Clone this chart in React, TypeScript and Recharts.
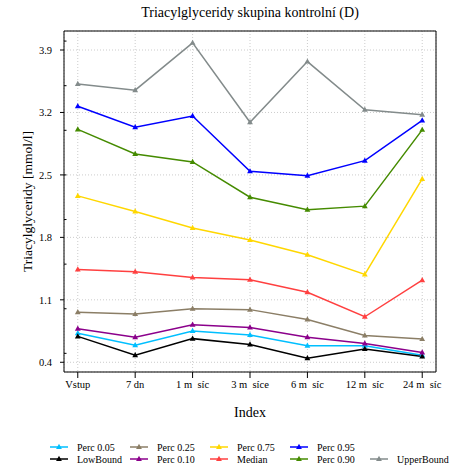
import React from "react";
import { LineChart, Line, XAxis, YAxis, CartesianGrid, Legend } from "recharts";

const labels = ["Vstup", "7 dn", "1 m\u00a0\u00a0síc", "3 m\u00a0\u00a0síce", "6 m\u00a0\u00a0síc", "12 m\u00a0\u00a0síc", "24 m\u00a0\u00a0síc"];
const yTicks = [0.4, 1.1, 1.8, 2.5, 3.2, 3.9];
const yMinorTicks = [0.5, 1.0, 1.5, 2.0, 2.5, 3.0, 3.5, 4.0];

const lowBound = [0.69, 0.48, 0.665, 0.6, 0.445, 0.55, 0.465];
const perc05 = [0.725, 0.59, 0.75, 0.705, 0.585, 0.585, 0.48];
const perc10 = [0.775, 0.68, 0.82, 0.79, 0.68, 0.61, 0.51];
const perc25 = [0.96, 0.94, 1.0, 0.99, 0.88, 0.7, 0.66];
const median = [1.44, 1.415, 1.35, 1.325, 1.185, 0.91, 1.32];
const perc75 = [2.265, 2.09, 1.905, 1.77, 1.605, 1.385, 2.455];
const perc90 = [3.01, 2.735, 2.645, 2.25, 2.11, 2.15, 3.005];
const perc95 = [3.27, 3.035, 3.16, 2.54, 2.49, 2.66, 3.11];
const upperBound = [3.52, 3.45, 3.98, 3.09, 3.77, 3.23, 3.175];

// legend order (column by column), colours in R x11 style
const series = [
  { key: "perc05", name: "Perc 0.05", color: "#00BFFF", values: perc05 },
  { key: "lowBound", name: "LowBound", color: "#000000", values: lowBound },
  { key: "perc25", name: "Perc 0.25", color: "#8B7E66", values: perc25 },
  { key: "perc10", name: "Perc 0.10", color: "#8B008B", values: perc10 },
  { key: "perc75", name: "Perc 0.75", color: "#FFD700", values: perc75 },
  { key: "median", name: "Median", color: "#FF4040", values: median },
  { key: "perc95", name: "Perc 0.95", color: "#0000FF", values: perc95 },
  { key: "perc90", name: "Perc 0.90", color: "#458B00", values: perc90 },
  { key: "upperBound", name: "UpperBound", color: "#838B8B", values: upperBound },
];

const data = labels.map((label, i) => {
  const row: Record<string, number | string> = { idx: i + 1, label };
  series.forEach((s) => (row[s.key] = s.values[i]));
  return row;
});

const FONT = "Liberation Serif, Times New Roman, serif";
const X_DOMAIN: [number, number] = [0.76, 7.24];
const Y_DOMAIN: [number, number] = [0.291, 4.113];

function tri(cx: number, cy: number) {
  return `M${cx},${cy - 3.2} L${cx + 2.9},${cy + 2} L${cx - 2.9},${cy + 2} Z`;
}

function TriDot(props: any) {
  const { cx, cy, stroke, index, dataKey } = props;
  if (cx == null || cy == null) return <g key={`${dataKey}-${index}`} />;
  return <path key={`${dataKey}-${index}`} d={tri(cx, cy)} fill={stroke} />;
}

function LegendBox() {
  const colX = [50, 130, 210, 290, 370];
  const rowY = [12, 24];
  return (
    <svg width={450} height={30} style={{ display: "block", fontFamily: FONT }}>
      {series.map((s, i) => {
        const col = Math.floor(i / 2);
        const row = i % 2;
        // UpperBound sits alone in the second row of the last column
        const x = colX[col];
        const y = col === 4 ? rowY[1] : rowY[row];
        return (
          <g key={s.key}>
            <line x1={x} x2={x + 18} y1={y} y2={y} stroke={s.color} strokeWidth={1.5} />
            <path d={tri(x + 9, y)} fill={s.color} />
            <text x={x + 27} y={y} dominantBaseline="central" fontSize={10} style={{ fontFamily: FONT }} fill="#000">
              {s.name}
            </text>
          </g>
        );
      })}
    </svg>
  );
}

export default function App() {
  return (
    <div style={{ position: "absolute", left: 0, top: 0, width: 450, height: 470, background: "#fff", fontFamily: FONT }}>
      <LineChart width={450} height={470} data={data} margin={{ top: 30, right: 13, left: 0, bottom: 5 }} style={{ fontFamily: FONT }}>
        <CartesianGrid stroke="#cccccc" strokeDasharray="1 2" />
        <XAxis
          dataKey="idx"
          type="number"
          domain={X_DOMAIN}
          ticks={[1, 2, 3, 4, 5, 6, 7]}
          interval={0}
          allowDataOverflow
          tickFormatter={(v: number) => labels[v - 1]}
          height={63}
          tickSize={6}
          tickMargin={3}
          tick={{ fontSize: 10.5, fill: "#000", style: { fontFamily: FONT } }}
          axisLine={{ stroke: "#000" }}
          tickLine={{ stroke: "#000" }}
          label={{ value: "Index", position: "insideBottom", offset: 18, fontSize: 14, fill: "#000", style: { fontFamily: FONT } }}
        />
        <XAxis
          xAxisId="top"
          orientation="top"
          type="number"
          domain={X_DOMAIN}
          height={1}
          tick={false}
          tickLine={false}
          axisLine={{ stroke: "#000" }}
        />
        <YAxis
          type="number"
          domain={Y_DOMAIN}
          ticks={yTicks}
          allowDataOverflow
          interval={0}
          width={64}
          tickSize={4}
          tickMargin={8}
          tickFormatter={(v: number) => v.toFixed(1)}
          tick={{ fontSize: 10.5, fill: "#000", style: { fontFamily: FONT } }}
          axisLine={{ stroke: "#000" }}
          tickLine={{ stroke: "#000" }}
          label={{ value: "Triacylglyceridy [mmol/l]", angle: -90, position: "center", dx: -5, fontSize: 13.5, fill: "#000", style: { fontFamily: FONT } }}
        />
        <YAxis
          yAxisId="minor"
          orientation="left"
          mirror
          type="number"
          domain={Y_DOMAIN}
          ticks={yMinorTicks}
          allowDataOverflow
          interval={0}
          width={10}
          tickSize={2.5}
          tick={() => <g />}
          axisLine={false}
          tickLine={{ stroke: "#000" }}
        />
        <YAxis
          yAxisId="right"
          orientation="right"
          type="number"
          domain={Y_DOMAIN}
          width={1}
          tick={false}
          tickLine={false}
          axisLine={{ stroke: "#000" }}
        />
        <Legend content={() => <LegendBox />} wrapperStyle={{ left: 0, bottom: 5, width: 450, height: 30 }} />
        {series.map((s) => (
          <Line
            key={s.key}
            dataKey={s.key}
            name={s.name}
            stroke={s.color}
            strokeWidth={1.5}
            dot={TriDot}
            activeDot={false}
            isAnimationActive={false}
          />
        ))}
      </LineChart>
      <div
        style={{
          position: "absolute",
          top: 4,
          left: 50,
          width: 400,
          textAlign: "center",
          fontSize: 14,
          lineHeight: "18px",
          fontFamily: FONT,
          color: "#000",
        }}
      >
        Triacylglyceridy skupina kontrolní (D)
      </div>
    </div>
  );
}
